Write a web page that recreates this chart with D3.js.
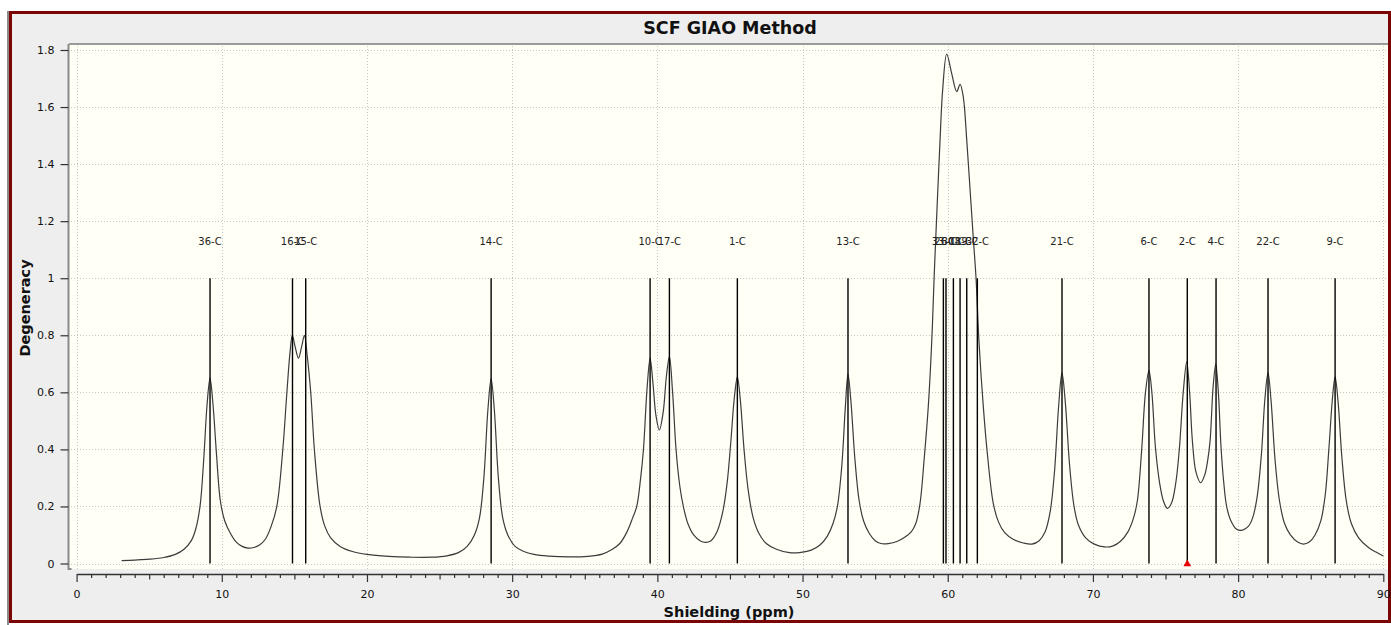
<!DOCTYPE html>
<html lang="en">
<head>
    <meta charset="UTF-8">
    <title>SCF GIAO Method</title>
    <script src="https://d3js.org/d3.v7.min.js"></script>
    <style>
        body, html {
            margin: 0;
            padding: 0;
            background: #ffffff;
            overflow: hidden;
        }
        svg text {
            font-family: "DejaVu Sans", Verdana, sans-serif;
        }
    </style>
</head>
<body>
<div id="chart"></div>
<script>
// --- data ---
const stickLabels = ["36-C", "16-C", "15-C", "14-C", "10-C", "17-C", "1-C", "13-C",
    "33-C", "26-C", "30-C", "18-C", "19-C", "32-C",
    "21-C", "6-C", "2-C", "4-C", "22-C", "9-C"];
const stickPpm = [9.19, 14.87, 15.78, 28.55, 39.5, 40.83, 45.51, 53.13,
    59.70, 59.88, 60.39, 60.85, 61.31, 62.04,
    67.87, 73.86, 76.5, 78.48, 82.06, 86.68];
const stickDegeneracy = [1, 1, 1, 1, 1, 1, 1, 1, 1, 1, 1, 1, 1, 1, 1, 1, 1, 1, 1, 1];

// broadened spectrum [ppm, degeneracy]
const spectrumPoints = [
    [3.1, 0.010], [4.0, 0.012], [5.0, 0.015], [6.0, 0.021], [6.8, 0.032], [7.4, 0.05], [7.9, 0.08],
    [8.2, 0.12], [8.5, 0.2], [8.75, 0.36], [8.99, 0.56], [9.19, 0.65], [9.39, 0.56], [9.64, 0.38],
    [9.9, 0.22], [10.2, 0.15], [10.6, 0.105], [11.0, 0.075], [11.4, 0.06], [11.8, 0.054], [12.2, 0.056],
    [12.6, 0.065], [13.0, 0.085], [13.4, 0.13], [13.79, 0.2], [14.2, 0.398], [14.48, 0.597], [14.7, 0.74],
    [14.86, 0.80], [15.05, 0.76], [15.28, 0.72], [15.5, 0.76], [15.69, 0.80], [15.88, 0.73], [16.13, 0.597],
    [16.38, 0.398], [16.77, 0.2], [17.1, 0.13], [17.5, 0.09], [18.15, 0.06], [19.0, 0.042], [20.0, 0.032],
    [21.5, 0.025], [23.0, 0.022], [24.5, 0.022], [25.5, 0.027], [26.3, 0.038], [26.9, 0.06], [27.4, 0.1],
    [27.75, 0.16], [28.05, 0.3], [28.33, 0.54], [28.55, 0.647], [28.77, 0.54], [29.05, 0.3], [29.35, 0.16],
    [29.7, 0.1], [30.2, 0.06], [30.8, 0.042], [31.5, 0.032], [32.5, 0.026], [34.0, 0.023], [35.2, 0.025],
    [36.2, 0.033], [36.9, 0.05], [37.43, 0.071], [37.9, 0.11], [38.3, 0.16], [38.58, 0.2], [38.85, 0.3],
    [39.04, 0.398], [39.3, 0.62], [39.5, 0.719], [39.7, 0.63], [39.9, 0.52], [40.14, 0.468], [40.4, 0.53],
    [40.63, 0.66], [40.83, 0.725], [41.05, 0.6], [41.29, 0.398], [41.55, 0.27], [41.79, 0.2], [42.1, 0.14],
    [42.5, 0.1], [42.94, 0.08], [43.3, 0.074], [43.7, 0.08], [44.1, 0.11], [44.5, 0.18], [44.8, 0.28],
    [45.05, 0.42], [45.3, 0.58], [45.51, 0.654], [45.72, 0.57], [45.97, 0.4], [46.25, 0.26], [46.6, 0.16],
    [47.0, 0.105], [47.5, 0.07], [48.2, 0.05], [49.1, 0.038], [49.9, 0.039], [50.6, 0.047], [51.2, 0.065],
    [51.7, 0.095], [52.1, 0.14], [52.4, 0.2], [52.7, 0.34], [52.95, 0.55], [53.13, 0.664], [53.33, 0.57],
    [53.6, 0.37], [53.9, 0.22], [54.2, 0.15], [54.6, 0.105], [55.0, 0.08], [55.4, 0.07], [55.9, 0.07],
    [56.5, 0.077], [57.06, 0.093], [57.5, 0.112], [57.8, 0.14], [58.09, 0.21], [58.39, 0.374], [58.66, 0.55],
    [58.9, 0.78], [59.06, 1.0], [59.17, 1.134], [59.47, 1.484], [59.65, 1.66], [59.93, 1.786], [60.27, 1.718],
    [60.62, 1.654], [60.85, 1.68], [61.07, 1.636], [61.31, 1.484], [61.54, 1.309], [61.77, 1.134], [61.95, 1.0],
    [62.15, 0.78], [62.45, 0.55], [62.75, 0.374], [63.14, 0.21], [63.5, 0.145], [63.94, 0.107], [64.5, 0.085],
    [65.2, 0.072], [65.8, 0.068], [66.3, 0.08], [66.7, 0.11], [67.05, 0.18], [67.35, 0.32], [67.65, 0.56],
    [67.87, 0.668], [68.09, 0.57], [68.4, 0.34], [68.7, 0.2], [69.0, 0.135], [69.5, 0.09], [70.1, 0.068],
    [70.8, 0.058], [71.4, 0.062], [71.9, 0.078], [72.4, 0.11], [72.8, 0.16], [73.06, 0.22], [73.36, 0.4],
    [73.62, 0.6], [73.86, 0.676], [74.06, 0.6], [74.3, 0.41], [74.6, 0.28], [74.85, 0.22], [75.12, 0.193],
    [75.4, 0.21], [75.7, 0.28], [75.95, 0.4], [76.22, 0.6], [76.46, 0.707], [76.66, 0.6], [76.85, 0.43],
    [77.1, 0.32], [77.42, 0.283], [77.7, 0.31], [77.9, 0.36], [78.07, 0.43], [78.28, 0.62], [78.46, 0.699],
    [78.64, 0.6], [78.82, 0.41], [79.0, 0.29], [79.21, 0.2], [79.5, 0.15], [79.9, 0.12], [80.3, 0.117],
    [80.7, 0.13], [81.0, 0.16], [81.3, 0.23], [81.6, 0.38], [81.85, 0.58], [82.06, 0.668], [82.27, 0.57],
    [82.55, 0.36], [82.85, 0.22], [83.2, 0.14], [83.6, 0.1], [84.1, 0.075], [84.5, 0.068], [84.9, 0.075],
    [85.3, 0.1], [85.7, 0.15], [86.0, 0.24], [86.25, 0.4], [86.5, 0.58], [86.68, 0.654], [86.88, 0.57],
    [87.15, 0.37], [87.45, 0.22], [87.8, 0.14], [88.3, 0.09], [89.0, 0.055], [89.5, 0.04], [90.0, 0.026]
];

const xTicks = [0, 10, 20, 30, 40, 50, 60, 70, 80, 90];
const yTicks = [0, 0.2, 0.4, 0.6, 0.8, 1, 1.2, 1.4, 1.6, 1.8];
const yTickLabels = ["0", "0.2", "0.4", "0.6", "0.8", "1", "1.2", "1.4", "1.6", "1.8"];
const markerPpm = [76.5];

// --- layout ---
const W = 1391, H = 625;
const plot = { left: 69, right: 1388, top: 44, bottom: 569 };

const x = d3.scaleLinear().domain([0, 90]).range([76.6, 1383.3]);
const y = d3.scaleLinear().domain([0, 1.8]).range([563.5, 50]);

const svg = d3.select("#chart").append("svg")
    .attr("width", W)
    .attr("height", H);

// frame
svg.append("rect")
    .attr("x", 10.5).attr("y", 12.5)
    .attr("width", 1379).attr("height", 609)
    .attr("fill", "#eeeeee")
    .attr("stroke", "#7b0505")
    .attr("stroke-width", 3);
svg.append("line")
    .attr("x1", 8).attr("x2", 8).attr("y1", 11).attr("y2", H)
    .attr("stroke", "#8c8c8c").attr("stroke-width", 2);

// title
svg.append("text")
    .attr("x", 730).attr("y", 33.5)
    .attr("text-anchor", "middle")
    .attr("font-size", 17.5)
    .attr("font-weight", "bold")
    .attr("fill", "#111")
    .text("SCF GIAO Method");

// plot background
svg.append("rect")
    .attr("x", plot.left).attr("y", plot.top)
    .attr("width", plot.right - plot.left).attr("height", plot.bottom - plot.top)
    .attr("fill", "#fffff6");
svg.append("line")
    .attr("x1", plot.left).attr("x2", plot.right)
    .attr("y1", plot.top).attr("y2", plot.top)
    .attr("stroke", "#9a9a9a").attr("stroke-width", 2);

// grid
const grid = svg.append("g").attr("class", "grid")
    .attr("stroke", "#c8c8c8")
    .attr("stroke-width", 1)
    .attr("stroke-dasharray", "1,2");
grid.selectAll("line.gx").data(xTicks).enter().append("line")
    .attr("class", "gx")
    .attr("x1", d => Math.round(x(d)) + 0.5).attr("x2", d => Math.round(x(d)) + 0.5)
    .attr("y1", plot.top + 2).attr("y2", plot.bottom);
grid.selectAll("line.gy").data(yTicks).enter().append("line")
    .attr("class", "gy")
    .attr("x1", plot.left + 2).attr("x2", plot.right)
    .attr("y1", d => Math.round(y(d)) + 0.5).attr("y2", d => Math.round(y(d)) + 0.5);

// y axis
const yAxis = svg.append("g")
    .attr("transform", `translate(${plot.left - 0.5},0)`)
    .call(d3.axisLeft(y).tickValues(yTicks)
        .tickFormat((d, i) => yTickLabels[i])
        .tickSize(8).tickSizeOuter(0).tickPadding(6));
yAxis.select(".domain").attr("stroke", "#8a8a8a").attr("stroke-width", 2)
    .attr("d", `M0,${plot.top}V${plot.bottom}H3`);
yAxis.selectAll(".tick line").attr("stroke", "#333");
yAxis.selectAll(".tick text").attr("font-size", 11).attr("fill", "#111")
    .attr("font-family", "DejaVu Sans, sans-serif");

// x axis (major, mid, minor ticks)
const axisY = 574;
const minorTicks = d3.range(0, 91).filter(d => d % 5 !== 0);
const midTicks = d3.range(5, 90, 10);
const xMinor = svg.append("g")
    .attr("transform", `translate(0,${axisY})`)
    .call(d3.axisBottom(x).tickValues(minorTicks).tickSize(4).tickFormat(""));
xMinor.select(".domain").remove();
const xMid = svg.append("g")
    .attr("transform", `translate(0,${axisY})`)
    .call(d3.axisBottom(x).tickValues(midTicks).tickSize(5.5).tickFormat(""));
xMid.select(".domain").remove();
const xAxis = svg.append("g")
    .attr("transform", `translate(0,${axisY})`)
    .call(d3.axisBottom(x).tickValues(xTicks).tickSize(8).tickSizeOuter(0).tickPadding(8));
xAxis.select(".domain").attr("stroke", "#333").attr("stroke-width", 1.5);
svg.selectAll(".tick line").attr("stroke", "#333").attr("stroke-width", 1.2);
xAxis.selectAll(".tick text").attr("font-size", 11).attr("fill", "#111")
    .attr("font-family", "DejaVu Sans, sans-serif");

// axis titles
svg.append("text")
    .attr("x", 729).attr("y", 617)
    .attr("text-anchor", "middle")
    .attr("font-size", 14.5)
    .attr("font-weight", "bold")
    .attr("fill", "#111")
    .text("Shielding (ppm)");
svg.append("text")
    .attr("transform", "translate(30,308) rotate(-90)")
    .attr("text-anchor", "middle")
    .attr("font-size", 14.5)
    .attr("font-weight", "bold")
    .attr("fill", "#111")
    .text("Degeneracy");

// spectrum curve
const line = d3.line()
    .x(d => x(d[0]))
    .y(d => y(d[1]))
    .curve(d3.curveCatmullRom.alpha(0.5));
svg.append("path")
    .datum(spectrumPoints)
    .attr("fill", "none")
    .attr("stroke", "#3c3c3c")
    .attr("stroke-width", 1.2)
    .attr("d", line);

// sticks + labels
const sticks = stickPpm.map((p, i) => ({ ppm: p, deg: stickDegeneracy[i], label: stickLabels[i] }));
svg.append("g").selectAll("line").data(sticks).enter().append("line")
    .attr("x1", d => x(d.ppm)).attr("x2", d => x(d.ppm))
    .attr("y1", y(0)).attr("y2", d => y(d.deg))
    .attr("stroke", "#000")
    .attr("stroke-width", 1.4);
svg.append("g").selectAll("text").data(sticks).enter().append("text")
    .attr("x", d => x(d.ppm))
    .attr("y", d => y(d.deg) - 33)
    .attr("text-anchor", "middle")
    .attr("font-size", 10)
    .attr("fill", "#222")
    .text(d => d.label);

// red marker
svg.append("g").selectAll("path").data(markerPpm).enter().append("path")
    .attr("d", d3.symbol().type(d3.symbolTriangle).size(26))
    .attr("transform", d => `translate(${x(d)},${y(0) + 0.5})`)
    .attr("fill", "#e60000");
</script>
</body>
</html>
